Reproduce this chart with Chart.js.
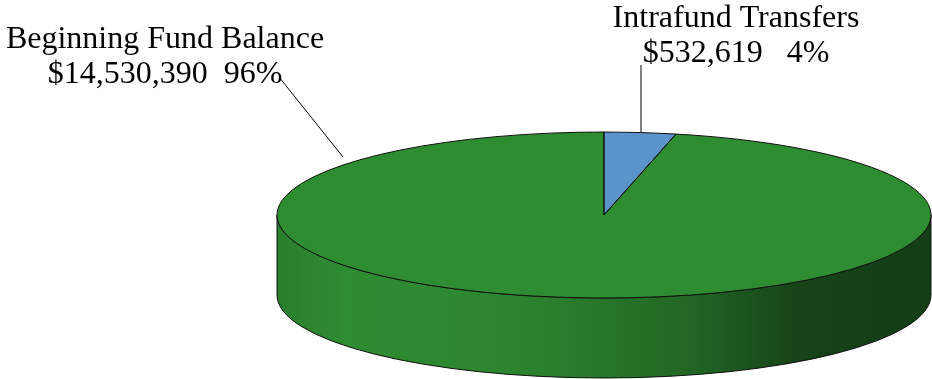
<!DOCTYPE html>
<html>
<head>
<meta charset="utf-8">
<script src="https://cdn.jsdelivr.net/npm/chart.js@4.4.1/dist/chart.umd.min.js"></script>
<style>
  html, body { margin: 0; padding: 0; background: #fff; }
  #wrap { width: 932px; height: 379px; }
</style>
</head>
<body>
<div id="wrap"><canvas id="pie" width="932" height="379"></canvas></div>
<script>
// ---------- 데이터 (12시 방향부터 시계방향 순서) ----------
const categories = ['Intrafund Transfers', 'Beginning Fund Balance'];
const amounts = [532619, 14530390];
const sliceColors = ['#5b94cb', '#2e8c31'];

// ---------- 3D 모양 (타원 납작하게 + 옆면) ----------
const TILT = 83 / 327;   // 세로/가로 비율
const DEPTH = 80;        // 옆면 두께

function shade(hex, f) {
  const n = parseInt(hex.slice(1), 16);
  const r = Math.round(((n >> 16) & 255) * f);
  const g = Math.round(((n >> 8) & 255) * f);
  const b = Math.round((n & 255) * f);
  return `rgb(${r},${g},${b})`;
}

// 앞쪽 반(0 ~ PI)과 겹치는 각도 구간
function frontPart(start, end) {
  const parts = [];
  for (const k of [-2, 0, 2]) {
    const a = Math.max(start, k * Math.PI);
    const b = Math.min(end, k * Math.PI + Math.PI);
    if (b > a) parts.push([a - k * Math.PI, b - k * Math.PI]);
  }
  return parts;
}

const pie3d = {
  id: 'pie3d',
  beforeDatasetsDraw(chart) {
    const ctx = chart.ctx;
    const arcs = chart.getDatasetMeta(0).data;
    if (!arcs.length) return;
    const { x: cx, y: cy, outerRadius: rx } = arcs[0];
    const ry = rx * TILT;

    // 옆면
    arcs.forEach((arc, i) => {
      frontPart(arc.startAngle, arc.endAngle).forEach(([a, b]) => {
        const grad = ctx.createLinearGradient(cx - rx, 0, cx + rx, 0);
        const base = sliceColors[i];
        grad.addColorStop(0, shade(base, 0.9));
        grad.addColorStop(0.1, shade(base, 1.0));
        grad.addColorStop(0.35, shade(base, 0.96));
        grad.addColorStop(0.62, shade(base, 0.74));
        grad.addColorStop(0.8, shade(base, 0.48));
        grad.addColorStop(1, shade(base, 0.44));
        ctx.save();
        ctx.beginPath();
        ctx.ellipse(cx, cy, rx, ry, 0, a, b);
        ctx.ellipse(cx, cy + DEPTH, rx, ry, 0, b, a, true);
        ctx.closePath();
        ctx.fillStyle = grad;
        ctx.fill();
        ctx.strokeStyle = '#111';
        ctx.lineWidth = 1;
        ctx.stroke();
        ctx.restore();
      });
    });

    // 윗면: 세로로 눌러서 그림
    ctx.save();
    ctx.translate(cx, cy);
    ctx.scale(1, TILT);
    ctx.translate(-cx, -cy);
  },
  afterDatasetsDraw(chart) {
    const ctx = chart.ctx;
    ctx.restore();
    const arcs = chart.getDatasetMeta(0).data;
    if (!arcs.length) return;
    const { x: cx, y: cy, outerRadius: rx } = arcs[0];
    const ry = rx * TILT;
    ctx.save();
    ctx.strokeStyle = '#111';
    ctx.lineWidth = 1;
    arcs.forEach((arc) => {
      ctx.beginPath();
      ctx.moveTo(cx, cy);
      ctx.ellipse(cx, cy, rx, ry, 0, arc.startAngle, arc.endAngle);
      ctx.closePath();
      ctx.stroke();
    });
    ctx.restore();
  },
};

// ---------- 라벨 + 지시선 ----------
const labelSpots = [
  { x: 736, y: 27, line: [[641, 65], [641, 132]] },
  { x: 165, y: 48, line: [[279, 77], [343, 157]] },
];

const pieLabels = {
  id: 'pieLabels',
  afterDraw(chart) {
    const ctx = chart.ctx;
    const total = amounts.reduce((s, v) => s + v, 0);
    ctx.save();
    ctx.fillStyle = '#000';
    ctx.strokeStyle = '#000';
    ctx.lineWidth = 1;
    ctx.font = '32px "Liberation Serif", "Times New Roman", serif';
    ctx.textAlign = 'center';
    ctx.textBaseline = 'alphabetic';
    categories.forEach((name, i) => {
      const spot = labelSpots[i];
      const pct = (Math.round((amounts[i] / total) * 100) + '%').padStart(3, ' ');
      const value = '$' + amounts[i].toLocaleString('en-US') + '  ' + pct;
      ctx.fillText(name, spot.x, spot.y);
      ctx.fillText(value.replace(/ /g, '\u00a0'), spot.x, spot.y + 35);
      ctx.beginPath();
      ctx.moveTo(spot.line[0][0], spot.line[0][1]);
      ctx.lineTo(spot.line[1][0], spot.line[1][1]);
      ctx.stroke();
    });
    ctx.restore();
  },
};

new Chart(document.getElementById('pie'), {
  type: 'pie',
  data: {
    labels: categories,
    datasets: [{
      data: amounts,
      backgroundColor: sliceColors,
      borderWidth: 0,
      radius: 327,
      clip: false,
    }],
  },
  options: {
    responsive: false,
    animation: false,
    layout: { padding: { left: 276, top: 51, right: 0, bottom: 0 } },
    plugins: {
      legend: { display: false },
      tooltip: { enabled: false },
    },
  },
  plugins: [pie3d, pieLabels],
});
</script>
</body>
</html>
